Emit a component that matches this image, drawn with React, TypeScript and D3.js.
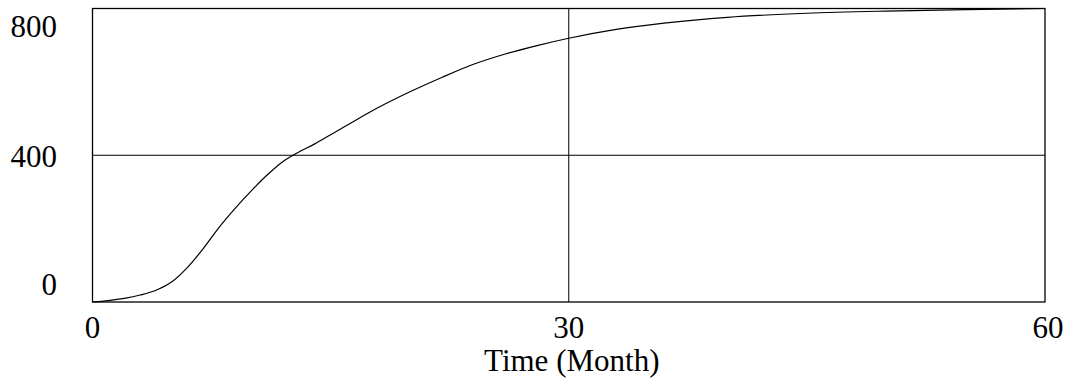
import React from "react";
import * as d3 from "d3";

const times = [0, 1, 2, 3, 4, 5, 6, 7, 8, 9, 10, 11, 12, 13, 14, 15, 16, 18, 20, 22, 24, 26, 28, 30, 33, 36, 40, 45, 50, 55, 60];
const values = [0, 4, 10, 19, 32, 55, 95, 147, 205, 256, 303, 346, 383, 409, 431, 456, 481, 530, 573, 612, 648, 676, 699, 719, 743, 760, 776, 787, 793, 797, 800];
const xTicks = [0, 30, 60];
const yTicks = [0, 400, 800];
const xTitle = "Time (Month)";

export default function App() {
  const W = 1070, H = 381;
  const left = 92.5, right = 1045, top = 8.5, bottom = 302;
  const x = d3.scaleLinear().domain([0, 60]).range([left, right]);
  const y = d3.scaleLinear().domain([0, 800]).range([bottom, top]);
  const line = d3.line<number>()
    .x((_, i) => x(times[i]))
    .y((d) => y(d))
    .curve(d3.curveMonotoneX);
  const font = "'Liberation Serif', 'Times New Roman', serif";
  const yBase: Record<number, number> = { 0: 295, 400: 166.5, 800: 37 };
  return (
    <svg width={W} height={H} style={{ position: "absolute", left: 0, top: 0, background: "#fff" }}>
      <rect x={0} y={0} width={W} height={H} fill="#fff" />
      {yTicks.filter((t) => t > 0 && t < 800).map((t) => (
        <line key={"gy" + t} x1={left} x2={right} y1={y(t)} y2={y(t)} stroke="#000" strokeWidth={1} />
      ))}
      {xTicks.filter((t) => t > 0 && t < 60).map((t) => (
        <line key={"gx" + t} x1={x(t)} x2={x(t)} y1={top} y2={bottom} stroke="#000" strokeWidth={1} />
      ))}
      <path d={line(values) || ""} fill="none" stroke="#000" strokeWidth={1.2} />
      <rect x={left} y={top} width={right - left} height={bottom - top} fill="none" stroke="#000" strokeWidth={1.3} />
      {yTicks.map((t) => (
        <text key={"ty" + t} x={57} y={yBase[t]} textAnchor="end" fontFamily={font} fontSize={31} fill="#000">
          {t}
        </text>
      ))}
      {xTicks.map((t) => (
        <text key={"tx" + t} x={x(t) + (t === 60 ? 3 : 0)} y={338} textAnchor="middle" fontFamily={font} fontSize={31} fill="#000">
          {t}
        </text>
      ))}
      <text x={x(30) + 3} y={371} textAnchor="middle" fontFamily={font} fontSize={31} fill="#000">
        {xTitle}
      </text>
    </svg>
  );
}
